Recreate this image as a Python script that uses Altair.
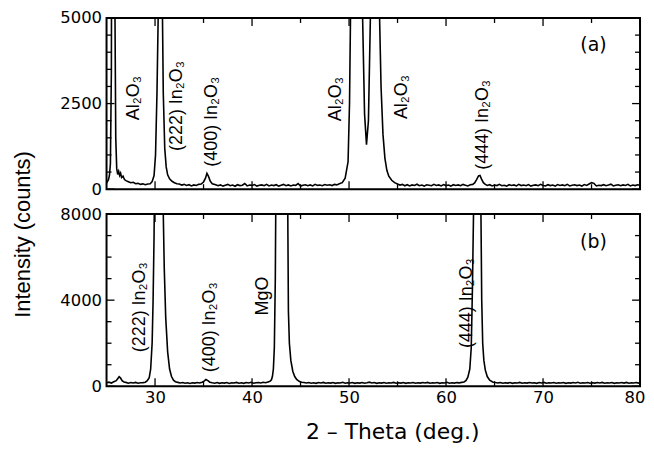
import altair as alt
import pandas as pd

# ---------------- data ----------------
# panel (a): 2-theta (deg) and intensity (counts)
a_theta = [
    25.0, 25.1, 25.2, 25.3, 25.4, 25.5, 25.6, 25.75, 25.85, 25.95, 26.05, 26.15, 26.25, 26.35, 26.45,
    26.55, 26.7, 26.85, 27.0, 27.25, 27.5, 27.75, 28.0, 28.25, 28.5, 28.75, 29.0, 29.25, 29.5, 29.7, 29.9,
    30.05, 30.2, 30.35, 30.5, 30.65, 30.75, 30.85, 31.0, 31.15, 31.3,
    31.5, 31.75, 32.0, 32.25, 32.5, 32.75, 33.0, 33.25, 33.5, 33.75, 34.0, 34.25, 34.5, 34.75,
    35.0, 35.2, 35.35, 35.5, 35.7, 35.9,
    36.25, 36.5, 36.75, 37.0, 37.25, 37.5, 37.75, 38.0, 38.25, 38.5, 38.75, 39.0, 39.25, 39.5, 39.75,
    40.0, 40.25, 40.5, 40.75, 41.0, 41.25, 41.5, 41.75, 42.0, 42.25, 42.5, 42.75, 43.0, 43.25, 43.5,
    43.75, 44.0, 44.25, 44.5, 44.75, 45.0, 45.25, 45.5, 45.75, 46.0, 46.25, 46.5, 46.75, 47.0, 47.25,
    47.5, 47.75, 48.0, 48.25, 48.5, 48.75, 49.0,
    49.3, 49.6, 49.9, 50.05, 50.15, 50.3, 50.8, 51.2, 51.4, 51.6, 51.8, 52.0, 52.2, 52.4, 52.7, 53.0,
    53.15, 53.3, 53.5, 53.7, 53.9, 54.1, 54.4, 54.7, 55.0,
    55.25, 55.5, 55.75, 56.0, 56.25, 56.5, 56.75, 57.0, 57.25, 57.5, 57.75, 58.0, 58.25, 58.5, 58.75,
    59.0, 59.25, 59.5, 59.75, 60.0, 60.25, 60.5, 60.75, 61.0, 61.25, 61.5, 61.75, 62.0, 62.25, 62.5, 62.75,
    62.95, 63.15, 63.35, 63.5, 63.65, 63.85, 64.05,
    64.25, 64.5, 64.75, 65.0, 65.25, 65.5, 65.75, 66.0, 66.25, 66.5, 66.75, 67.0, 67.25, 67.5, 67.75,
    68.0, 68.25, 68.5, 68.75, 69.0, 69.25, 69.5, 69.75, 70.0, 70.25, 70.5, 70.75, 71.0, 71.25, 71.5,
    71.75, 72.0, 72.25, 72.5, 72.75, 73.0, 73.25, 73.5, 73.75, 74.0, 74.25, 74.5, 74.75, 75.0, 75.25,
    75.5, 75.75, 76.0, 76.25, 76.5, 76.75, 77.0, 77.25, 77.5, 77.75, 78.0, 78.25, 78.5, 78.75, 79.0,
    79.25, 79.5, 79.75, 80.0,
]
a_counts = [
    180, 230, 280, 400, 750, 3500, 20000, 20000, 6000, 1500, 600, 430, 520, 400, 470,
    340, 380, 280, 250, 220, 190, 200, 160, 170, 140, 155, 130, 150, 160, 220, 400,
    1000, 2800, 5500, 20000, 20000, 5500, 2800, 1200, 650, 420,
    300, 230, 190, 160, 150, 120, 140, 110, 130, 95, 125, 110, 140, 150,
    210, 320, 460, 380, 230, 160,
    130, 100, 125, 90, 115, 140, 100, 120, 85, 130, 105, 115, 165, 95, 120,
    110, 135, 90, 115, 125, 100, 140, 95, 120, 105, 130, 90, 115, 140, 100,
    125, 95, 120, 110, 165, 90, 115, 130, 100, 125, 95, 140, 110, 120, 100,
    135, 115, 130, 105, 140, 125, 160,
    190, 320, 800, 2500, 5000, 15000, 25000, 12000, 5000, 2200, 1300, 2000, 5000, 14000, 25000, 9000,
    5000, 3000, 1600, 900, 550, 380, 260, 190, 150,
    120, 140, 100, 130, 95, 125, 110, 145, 100, 120, 90, 130, 115, 100, 140,
    110, 125, 95, 135, 105, 120, 90, 130, 110, 125, 100, 140, 115, 95, 130, 140,
    180, 280, 390, 400, 300, 190, 140,
    110, 130, 95, 120, 105, 140, 100, 115, 90, 130, 110, 125, 95, 140, 105,
    120, 100, 135, 90, 115, 125, 100, 140, 110, 95, 130, 105, 120, 90, 135,
    110, 125, 100, 140, 95, 115, 130, 105, 120, 90, 135, 110, 150, 190, 170,
    95, 115, 105, 130, 100, 120, 145, 95, 115, 130, 100, 125, 110, 140, 95,
    120, 105, 130, 115,
]

# panel (b)
b_theta = [
    25.0, 25.25, 25.5, 25.75, 26.0, 26.15, 26.3, 26.45, 26.6, 26.8, 27.0, 27.25, 27.5, 27.75, 28.0,
    28.25, 28.5, 28.75, 29.0, 29.2, 29.4, 29.55, 29.7, 29.8, 29.9, 30.0, 30.4, 30.75, 30.85, 30.95,
    31.1, 31.3, 31.5, 31.7, 31.9, 32.1,
    32.35, 32.6, 32.85, 33.1, 33.35, 33.6, 33.85, 34.1, 34.35, 34.6, 34.85,
    35.05, 35.25, 35.45, 35.65, 35.9,
    36.15, 36.4, 36.65, 36.9, 37.15, 37.4, 37.65, 37.9, 38.15, 38.4, 38.65, 38.9, 39.15, 39.4, 39.65,
    39.9, 40.15, 40.4, 40.65, 40.9, 41.15, 41.4, 41.65,
    41.85, 42.0, 42.1, 42.2, 42.3, 42.4, 42.5, 43.0, 43.6, 43.7, 43.75, 43.85, 44.0, 44.2, 44.4, 44.6,
    44.85, 45.1, 45.35, 45.6,
    45.85, 46.1, 46.35, 46.6, 46.85, 47.1, 47.35, 47.6, 47.85, 48.1, 48.35, 48.6, 48.85, 49.1, 49.35,
    49.6, 49.85, 50.1, 50.35, 50.6, 50.85, 51.1, 51.35, 51.6, 51.85, 52.1, 52.35, 52.6, 52.85, 53.1,
    53.35, 53.6, 53.85, 54.1, 54.35, 54.6, 54.85, 55.1, 55.35, 55.6, 55.85, 56.1, 56.35, 56.6, 56.85,
    57.1, 57.35, 57.6, 57.85, 58.1, 58.35, 58.6, 58.85, 59.1, 59.35, 59.6, 59.85, 60.1, 60.35, 60.6,
    60.85, 61.1, 61.35, 61.6,
    61.85, 62.05, 62.25, 62.45, 62.6, 62.72, 62.85, 63.0, 63.25, 63.5, 63.6, 63.68, 63.78, 63.9, 64.05,
    64.25, 64.5, 64.8, 65.1,
    65.35, 65.6, 65.85, 66.1, 66.35, 66.6, 66.85, 67.1, 67.35, 67.6, 67.85, 68.1, 68.35, 68.6, 68.85,
    69.1, 69.35, 69.6, 69.85, 70.1, 70.35, 70.6, 70.85, 71.1, 71.35, 71.6, 71.85, 72.1, 72.35, 72.6,
    72.85, 73.1, 73.35, 73.6, 73.85, 74.1, 74.35, 74.6, 74.85, 75.1, 75.35, 75.6, 75.85, 76.1, 76.35,
    76.6, 76.85, 77.1, 77.35, 77.6, 77.85, 78.1, 78.35, 78.6, 78.85, 79.1, 79.35, 79.6, 79.85, 80.0,
]
b_counts = [
    160, 190, 150, 210, 260, 350, 440, 380, 260, 200, 180, 140, 170, 150, 180,
    140, 160, 170, 190, 260, 400, 800, 2000, 4000, 7000, 12000, 25000, 12000, 8000, 5500,
    3200, 1600, 800, 450, 280, 210,
    180, 150, 170, 140, 160, 130, 165, 145, 170, 150, 190,
    240, 310, 260, 190, 160,
    140, 170, 135, 160, 145, 175, 130, 160, 150, 180, 140, 165, 135, 170, 150,
    185, 140, 160, 175, 150, 185, 165, 200,
    230, 300, 450, 800, 1800, 5000, 12000, 30000, 15000, 7000, 3500, 2000, 1200, 700, 450, 320,
    230, 190, 170, 150,
    175, 140, 160, 135, 170, 150, 180, 140, 160, 145, 175, 135, 160, 150, 185,
    140, 165, 150, 175, 135, 160, 145, 170, 140, 160, 190, 150, 170, 135, 160,
    145, 175, 140, 165, 150, 180, 140, 160, 145, 170, 135, 165, 150, 175, 140,
    160, 145, 170, 150, 180, 140, 160, 150, 175, 135, 165, 150, 185, 140, 160,
    145, 170, 155, 180,
    200, 260, 420, 800, 1800, 4500, 8500, 18000, 22000, 15000, 8000, 4000, 2000, 1200, 750,
    450, 280, 200, 170,
    150, 175, 140, 160, 145, 170, 135, 165, 150, 180, 140, 160, 145, 175, 150,
    165, 135, 170, 150, 180, 140, 160, 150, 170, 140, 165, 150, 175, 135, 160,
    145, 170, 150, 185, 140, 165, 150, 175, 140, 160, 145, 170, 150, 180, 140,
    165, 150, 175, 135, 160, 150, 170, 145, 180, 140, 165, 150, 175, 145, 160,
]

# peak annotations
a_lab_text = ["Al₂O₃", "(222) In₂O₃", "(400) In₂O₃", "Al₂O₃", "Al₂O₃", "(444) In₂O₃"]
a_lab_x = [27.8, 32.3, 35.9, 48.7, 55.5, 63.8]
a_lab_y = [2660, 2430, 1970, 2630, 2690, 1880]
b_lab_text = ["(222) In₂O₃", "(400) In₂O₃", "MgO", "(444) In₂O₃"]
b_lab_x = [28.5, 35.7, 41.1, 62.15]
b_lab_y = [3670, 2740, 4190, 3860]

tag_text = ["(a)", "(b)"]
tag_x = [75.2, 75.2]
tag_y = [4220, 6700]

x_ticks = [30, 35, 40, 45, 50, 55, 60, 65, 70, 75, 80]
a_y_ticks = [0, 500, 1000, 1500, 2000, 2500, 3000, 3500, 4000, 4500, 5000]
b_y_ticks = [0, 1000, 2000, 3000, 4000, 5000, 6000, 7000, 8000]

W = 536
LABEL_FONT = "DejaVu Sans"
TEXT_FONT = "Liberation Sans"
MAJOR_LEN = 8
MINOR_LEN = 5


def inner_ticks(values, major, scale, channel, width, height):
    """Inward-pointing ticks on both edges, drawn from the tick value list."""
    df = pd.DataFrame({"v": values})
    layers = []
    for test, L in ((f"datum.v % {major} === 0", MAJOR_LEN), (f"datum.v % {major} !== 0", MINOR_LEN)):
        base = alt.Chart(df).transform_filter(test).mark_rule(color="black", strokeWidth=1.3)
        if channel == "y":
            pos = alt.Y("v:Q", scale=scale, axis=None)
            layers.append(base.encode(y=pos, x=alt.value(0), x2=alt.value(L)))
            layers.append(base.encode(y=pos, x=alt.value(width), x2=alt.value(width - L)))
        else:
            pos = alt.X("v:Q", scale=scale, axis=None)
            layers.append(base.encode(x=pos, y=alt.value(0), y2=alt.value(L)))
            layers.append(base.encode(x=pos, y=alt.value(height), y2=alt.value(height - L)))
    return layers


def panel(theta, counts, ymax, yticks, ymajor, lab_text, lab_x, lab_y, tag, tx, ty, height, top):
    n = min(len(theta), len(counts))
    spec = pd.DataFrame({"theta": theta[:n], "counts": counts[:n]})
    lab = pd.DataFrame({"theta": lab_x, "counts": lab_y, "text": lab_text})
    tagdf = pd.DataFrame({"theta": [tx], "counts": [ty], "text": [tag]})

    xs = alt.Scale(domain=[25, 80], nice=False, zero=False)
    ys = alt.Scale(domain=[0, ymax], nice=False, zero=False)
    common = dict(domain=False, grid=False, ticks=False, labelOverlap=False)

    y_kwargs = dict(orient="left", values=yticks, format="d",
                    labelExpr=f"datum.value % {ymajor} === 0 ? datum.label : ''",
                    labelPadding=5, labelFont=LABEL_FONT, labelFontSize=16.5,
                    labelColor="black", **common)
    if top:
        x_axis = alt.Axis(orient="bottom", values=x_ticks, labels=False, title=None, **common)
        y_axis = alt.Axis(title="Intensity (counts)", titleFont=TEXT_FONT, titleFontSize=22,
                          titleFontWeight="normal", titleColor="black", titleAngle=270,
                          titleAlign="center", titleBaseline="bottom", titleX=-72, titleY=217,
                          **y_kwargs)
    else:
        x_axis = alt.Axis(orient="bottom", values=x_ticks, format="d",
                          labelExpr="datum.value % 10 === 0 ? datum.label : ''",
                          labelFlush=True, labelFlushOffset=5, labelPadding=3,
                          labelFont=LABEL_FONT, labelFontSize=16.5, labelColor="black",
                          title="2 – Theta (deg.)", titleFont=LABEL_FONT, titleFontSize=22,
                          titleFontWeight="normal", titleColor="black", titleAlign="center",
                          titleBaseline="alphabetic", titleX=287, titleY=53, **common)
        y_axis = alt.Axis(title=None, **y_kwargs)

    line = alt.Chart(spec).mark_line(clip=True, color="black", strokeWidth=1.6).encode(
        x=alt.X("theta:Q", scale=xs, axis=x_axis),
        y=alt.Y("counts:Q", scale=ys, axis=y_axis),
    )
    labels = alt.Chart(lab).mark_text(
        angle=270, font=TEXT_FONT, fontSize=18, color="black", align="center", baseline="middle"
    ).encode(
        x=alt.X("theta:Q", scale=xs, axis=None),
        y=alt.Y("counts:Q", scale=ys, axis=None),
        text="text:N",
    )
    tagl = alt.Chart(tagdf).mark_text(
        font=LABEL_FONT, fontSize=19, color="black", align="center", baseline="middle"
    ).encode(
        x=alt.X("theta:Q", scale=xs, axis=None),
        y=alt.Y("counts:Q", scale=ys, axis=None),
        text="text:N",
    )
    ticks = inner_ticks(yticks, ymajor, ys, "y", W, height) + \
        inner_ticks(x_ticks, 10, xs, "x", W, height)
    return (
        alt.layer(line, labels, tagl, *ticks)
        .resolve_axis(x="independent", y="independent")
        .properties(width=W, height=height)
    )


pa = panel(a_theta, a_counts, 5000, a_y_ticks, 2500, a_lab_text, a_lab_x, a_lab_y,
           tag_text[0], tag_x[0], tag_y[0], 172, True)
pb = panel(b_theta, b_counts, 8000, b_y_ticks, 4000, b_lab_text, b_lab_x, b_lab_y,
           tag_text[1], tag_x[1], tag_y[1], 173, False)

chart = (
    alt.vconcat(pa, pb, spacing=25, bounds="flush")
    .properties(padding={"left": 3, "top": 0, "right": 0, "bottom": 0}, background="white")
    .configure_view(stroke="black", strokeWidth=2)
)

chart.save("out.html", embed_options={"renderer": "svg", "actions": False})
